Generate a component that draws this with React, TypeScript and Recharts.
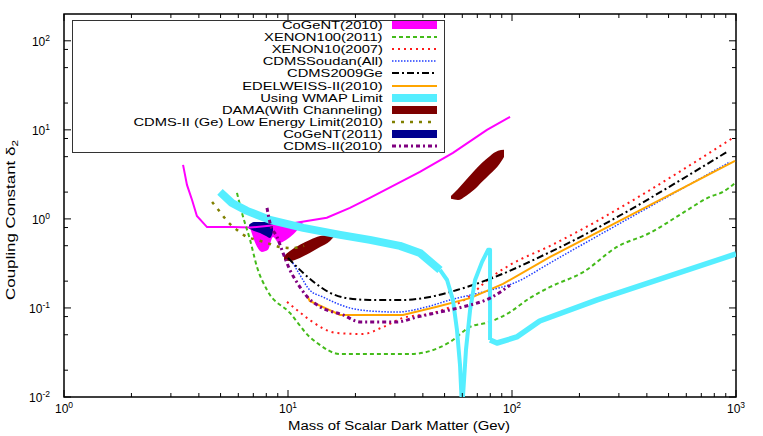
import React from 'react';
import { ComposedChart, Line, Area, XAxis, YAxis, ReferenceArea, Label } from 'recharts';

// tick values (log axes)
const xTicks = [1, 2, 3, 4, 5, 6, 7, 8, 9, 10, 20, 30, 40, 50, 60, 70, 80, 90, 100, 200, 300, 400, 500, 600, 700, 800, 900, 1000];
const yTicks = [0.01, 0.02, 0.05, 0.08, 0.1, 0.2, 0.5, 0.8, 1, 2, 5, 8, 10, 20, 50, 80, 100];

// CoGeNT(2010)
const cogent2010Line = [
  { x: 3.40, y: 4.04 }, { x: 3.54, y: 2.41 }, { x: 3.73, y: 1.63 }, { x: 3.92, y: 1.08 },
  { x: 4.35, y: 0.81 }, { x: 5.68, y: 0.81 }, { x: 6.77, y: 0.80 }, { x: 10.2, y: 0.88 },
  { x: 14.9, y: 1.03 }, { x: 18.9, y: 1.33 }, { x: 23.2, y: 1.72 }, { x: 38.8, y: 3.37 },
  { x: 54.5, y: 5.52 }, { x: 77.3, y: 10.0 }, { x: 98, y: 14.0 },
];
const cogent2010Region = [
  { x: 6.77, lo: 0.793, hi: 0.834 }, { x: 7.20, lo: 0.511, hi: 0.857 }, { x: 7.65, lo: 0.425, hi: 0.879 },
  { x: 8.14, lo: 0.449, hi: 0.879 }, { x: 8.57, lo: 0.628, hi: 0.879 }, { x: 9.12, lo: 0.537, hi: 0.879 },
  { x: 9.80, lo: 0.581, hi: 0.879 }, { x: 10.6, lo: 0.678, hi: 0.902 }, { x: 11.6, lo: 0.879, hi: 0.924 },
];

const xenon100 = [
  { x: 5.92, y: 1.96 }, { x: 6.23, y: 1.17 }, { x: 6.77, y: 0.581 }, { x: 7.27, y: 0.289 },
  { x: 8.06, y: 0.159 }, { x: 10.2, y: 0.0879 }, { x: 12.5, y: 0.0472 }, { x: 13.5, y: 0.0404 },
  { x: 17.1, y: 0.0304 }, { x: 35.1, y: 0.0304 }, { x: 52.9, y: 0.0415 }, { x: 65.0, y: 0.0612 },
  { x: 79.8, y: 0.0697 }, { x: 98, y: 0.090 }, { x: 120, y: 0.129 }, { x: 148, y: 0.172 },
  { x: 208, y: 0.253 }, { x: 294, y: 0.484 }, { x: 413, y: 0.696 }, { x: 580, y: 1.17 },
  { x: 765, y: 1.77 }, { x: 875, y: 2.01 }, { x: 990, y: 2.53 },
];

const xenon10 = [
  { x: 9.9, y: 0.117 }, { x: 11.1, y: 0.0925 }, { x: 12.5, y: 0.0733 }, { x: 16.5, y: 0.0524 },
  { x: 21.6, y: 0.051 }, { x: 26.6, y: 0.0612 }, { x: 32.6, y: 0.0772 }, { x: 44.4, y: 0.0879 },
  { x: 63.0, y: 0.129 }, { x: 79.8, y: 0.217 }, { x: 98, y: 0.304 }, { x: 148, y: 0.498 },
  { x: 970, y: 8.13 },
];

const cdmsSoudan = [
  { x: 10.5, y: 0.321 }, { x: 11.3, y: 0.235 }, { x: 12.5, y: 0.159 }, { x: 14.3, y: 0.133 },
  { x: 18.9, y: 0.1 }, { x: 23.2, y: 0.0925 }, { x: 30.7, y: 0.090 }, { x: 41.8, y: 0.103 },
  { x: 52.9, y: 0.123 }, { x: 74.3, y: 0.151 }, { x: 105, y: 0.196 }, { x: 148, y: 0.321 },
  { x: 940, y: 4.36 },
];

const cdms2009Ge = [
  { x: 10.0, y: 0.365 }, { x: 11.7, y: 0.247 }, { x: 13.2, y: 0.191 }, { x: 15.4, y: 0.148 },
  { x: 18.3, y: 0.129 }, { x: 23.2, y: 0.123 }, { x: 32.6, y: 0.123 }, { x: 43.0, y: 0.133 },
  { x: 56.8, y: 0.159 }, { x: 79.8, y: 0.212 }, { x: 148, y: 0.425 }, { x: 912, y: 5.66 },
];

const edelweiss = [
  { x: 12.2, y: 0.136 }, { x: 12.5, y: 0.120 }, { x: 17.1, y: 0.0834 }, { x: 32.6, y: 0.0834 },
  { x: 46.2, y: 0.103 }, { x: 65.0, y: 0.129 }, { x: 91.2, y: 0.186 }, { x: 148, y: 0.374 },
  { x: 990, y: 4.48 },
];

// WMAP band, split where it narrows
const wmapLeft = [
  { x: 4.97, y: 2.01 }, { x: 5.62, y: 1.51 }, { x: 6.56, y: 1.23 }, { x: 8.31, y: 0.975 },
  { x: 11.7, y: 0.793 }, { x: 17.1, y: 0.661 }, { x: 23.2, y: 0.581 }, { x: 31.6, y: 0.498 },
  { x: 38.8, y: 0.415 }, { x: 47.7, y: 0.267 },
];
const wmapDip = [
  { x: 47.7, y: 0.267 }, { x: 51.3, y: 0.206 }, { x: 54.5, y: 0.123 }, { x: 56.8, y: 0.0566 },
  { x: 58.6, y: 0.0229 }, { x: 59.5, y: 0.01 }, { x: 60.4, y: 0.01 }, { x: 62.3, y: 0.0337 },
  { x: 65.0, y: 0.095 }, { x: 68.4, y: 0.206 }, { x: 73.5, y: 0.329 }, { x: 78.2, y: 0.449 },
  { x: 79.8, y: 0.449 }, { x: 79.8, y: 0.0437 },
];
const wmapRight = [
  { x: 79.8, y: 0.0437 }, { x: 85.7, y: 0.0404 }, { x: 105, y: 0.0472 }, { x: 133, y: 0.0714 },
  { x: 240, y: 0.123 }, { x: 1000, y: 0.404 },
];

// DAMA regions
const damaLow = [
  { x: 9.60, lo: 0.346, hi: 0.384 }, { x: 10.2, lo: 0.337, hi: 0.436 }, { x: 11.3, lo: 0.365, hi: 0.511 },
  { x: 12.5, lo: 0.415, hi: 0.581 }, { x: 13.9, lo: 0.484, hi: 0.644 }, { x: 15.4, lo: 0.566, hi: 0.661 },
  { x: 16.0, lo: 0.628, hi: 0.644 },
];
const damaHigh = [
  { x: 53.4, lo: 1.68, hi: 1.81 }, { x: 57.4, lo: 1.63, hi: 2.17 }, { x: 62.3, lo: 1.81, hi: 2.74 },
  { x: 67.7, lo: 2.12, hi: 3.46 }, { x: 73.5, lo: 2.61, hi: 4.26 }, { x: 79.8, lo: 3.20, hi: 5.10 },
  { x: 86.6, lo: 3.94, hi: 5.81 }, { x: 92.1, lo: 4.97, hi: 5.96 },
];

const cdmsLowEnergy = [
  { x: 4.58, y: 1.55 }, { x: 4.97, y: 1.20 }, { x: 5.34, y: 0.951 }, { x: 5.92, y: 0.751 },
  { x: 6.56, y: 0.628 }, { x: 7.27, y: 0.581 }, { x: 8.06, y: 0.537 }, { x: 9.21, y: 0.484 },
  { x: 10.4, y: 0.471 }, { x: 11.8, y: 0.498 },
];

const cogent2011Region = [
  { x: 6.70, lo: 0.773, hi: 0.857 }, { x: 7.05, lo: 0.733, hi: 0.924 }, { x: 7.50, lo: 0.696, hi: 0.924 },
  { x: 7.97, lo: 0.644, hi: 0.924 }, { x: 8.31, lo: 0.612, hi: 0.951 }, { x: 8.57, lo: 0.714, hi: 0.879 },
];

const cdmsII2010 = [
  { x: 8.06, y: 1.33 }, { x: 8.31, y: 0.902 }, { x: 8.93, y: 0.628 }, { x: 9.50, y: 0.415 },
  { x: 10.2, y: 0.267 }, { x: 11.0, y: 0.191 }, { x: 12.2, y: 0.133 }, { x: 13.9, y: 0.103 },
  { x: 17.6, y: 0.0834 }, { x: 21.0, y: 0.0697 }, { x: 30.7, y: 0.0697 }, { x: 37.7, y: 0.0792 },
  { x: 47.7, y: 0.090 }, { x: 60.4, y: 0.103 }, { x: 79.8, y: 0.129 }, { x: 98, y: 0.180 },
];

const C = {
  cogent2010: '#ff00ff',
  xenon100: '#44bb1a',
  xenon10: '#ff1a1a',
  soudan: '#1f3dff',
  ge2009: '#000000',
  edelweiss: '#ffa500',
  wmap: '#55eeff',
  dama: '#7d0000',
  lowEnergy: '#808000',
  cogent2011: '#00008f',
  cdms2010: '#800080',
};

const legendRows = [
  { name: 'CoGeNT(2010)', color: C.cogent2010, bar: true },
  { name: 'XENON100(2011)', color: C.xenon100, width: 2, dash: '4 3' },
  { name: 'XENON10(2007)', color: C.xenon10, width: 2, dash: '2 4' },
  { name: 'CDMSSoudan(All)', color: C.soudan, width: 1.5, dash: '1.5 1.5' },
  { name: 'CDMS2009Ge', color: C.ge2009, width: 2, dash: '7 3 2 3' },
  { name: 'EDELWEISS-II(2010)', color: C.edelweiss, width: 2 },
  { name: 'Using WMAP Limit', color: C.wmap, bar: true },
  { name: 'DAMA(With Channeling)', color: C.dama, bar: true },
  { name: 'CDMS-II (Ge) Low Energy Limit(2010)', color: C.lowEnergy, width: 2.5, dash: '3 6' },
  { name: 'CoGeNT(2011)', color: C.cogent2011, bar: true },
  { name: 'CDMS-II(2010)', color: C.cdms2010, width: 3, dash: '4 3 2 3' },
];

const FONT = '"Liberation Sans", Arial, Helvetica, sans-serif';
const PLOT = { left: 64, right: 736, top: 14, bottom: 397 };

const isMajor = (v: number) => {
  const e = Math.log10(v);
  return Math.abs(e - Math.round(e)) < 1e-6;
};

const XTick = (props: any) => {
  const { x, payload } = props;
  const v = payload.value;
  const major = isMajor(v);
  const len = major ? 7 : 4;
  return (
    <g>
      <line x1={x} x2={x} y1={PLOT.bottom} y2={PLOT.bottom - len} stroke="#000" strokeWidth={1} />
      <line x1={x} x2={x} y1={PLOT.top} y2={PLOT.top + len} stroke="#000" strokeWidth={1} />
      {major && (
        <text x={x} y={PLOT.bottom + 16} textAnchor="middle" fontSize={12} fontFamily={FONT} fill="#000">
          10<tspan dy={-5} fontSize={8.5}>{Math.round(Math.log10(v))}</tspan>
        </text>
      )}
    </g>
  );
};

const YTick = (props: any) => {
  const { y, payload } = props;
  const v = payload.value;
  const major = isMajor(v);
  const len = major ? 7 : 4;
  return (
    <g>
      <line x1={PLOT.left} x2={PLOT.left + len} y1={y} y2={y} stroke="#000" strokeWidth={1} />
      <line x1={PLOT.right} x2={PLOT.right - len} y1={y} y2={y} stroke="#000" strokeWidth={1} />
      {major && (
        <text x={PLOT.left - 14} y={y + 5} textAnchor="end" fontSize={12} fontFamily={FONT} fill="#000">
          10<tspan dy={-5} fontSize={8.5}>{Math.round(Math.log10(v))}</tspan>
        </text>
      )}
    </g>
  );
};

const range = (d: any) => [d.lo, d.hi];

function LegendBox() {
  return (
    <div
      style={{
        position: 'absolute', left: 72, top: 20, width: 373, height: 133,
        border: '1.5px solid #333', background: '#fff', boxSizing: 'border-box',
        fontFamily: FONT, fontSize: 11.5, color: '#000',
      }}
    >
      <div style={{ marginTop: -2 }}>
        {legendRows.map((r) => (
          <div key={r.name} style={{ height: 12.1, display: 'flex', alignItems: 'center' }}>
            <div style={{ width: 309.5, textAlign: 'right', lineHeight: '12px' }}>
              <span style={{ display: 'inline-block', transform: 'scaleX(1.28)', transformOrigin: '100% 50%', whiteSpace: 'nowrap' }}>
                {r.name}
              </span>
            </div>
            <svg width={45} height={12} style={{ marginLeft: 9, display: 'block' }}>
              {r.bar ? (
                <rect x={0} y={2} width={45} height={8} fill={r.color} />
              ) : (
                <line x1={0} x2={45} y1={6} y2={6} stroke={r.color} strokeWidth={r.width} strokeDasharray={r.dash} />
              )}
            </svg>
          </div>
        ))}
      </div>
    </div>
  );
}

export default function App() {
  const lineProps = { dataKey: 'y', dot: false, isAnimationActive: false, activeDot: false } as const;
  return (
    <div style={{ position: 'absolute', left: 0, top: 0, width: 763, height: 436, background: '#fff' }}>
      <ComposedChart width={763} height={436} margin={{ top: 14, right: 27, bottom: 9, left: 10 }}>
        <XAxis
          type="number"
          dataKey="x"
          scale="log"
          domain={[1, 1000]}
          allowDataOverflow
          ticks={xTicks}
          interval={0}
          tick={XTick}
          tickLine={false}
          axisLine={false}
          tickSize={0}
          tickMargin={0}
          height={30}
        >
          <Label
            content={() => (
              <text x={399} y={430} textAnchor="middle" fontSize={12.5} fontFamily={FONT} textLength={222} lengthAdjust="spacingAndGlyphs">
                Mass of Scalar Dark Matter (Gev)
              </text>
            )}
          />
        </XAxis>
        <YAxis
          type="number"
          scale="log"
          domain={[0.01, 200]}
          allowDataOverflow
          ticks={yTicks}
          interval={0}
          tick={YTick}
          tickLine={false}
          axisLine={false}
          tickSize={0}
          tickMargin={0}
          width={54}
        >
          <Label
            content={() => (
              <text transform="translate(14.5,220) rotate(-90)" textAnchor="middle" fontSize={13} fontFamily={FONT} textLength={160} lengthAdjust="spacingAndGlyphs">
                Coupling Constant δ<tspan dy={3} fontSize={9}>2</tspan>
              </text>
            )}
          />
        </YAxis>

        <Area data={cogent2010Region} dataKey={range} type="monotone" stroke="none" fill={C.cogent2010} fillOpacity={1} isAnimationActive={false} activeDot={false} />
        <Line {...lineProps} data={cogent2010Line} type="linear" stroke={C.cogent2010} strokeWidth={2} />
        <Line {...lineProps} data={xenon100} type="monotone" stroke={C.xenon100} strokeWidth={2} strokeDasharray="4 3" />
        <Line {...lineProps} data={xenon10} type="monotone" stroke={C.xenon10} strokeWidth={2} strokeDasharray="2 4" />
        <Line {...lineProps} data={cdmsSoudan} type="monotone" stroke={C.soudan} strokeWidth={1.5} strokeDasharray="1.5 1.5" />
        <Line {...lineProps} data={cdms2009Ge} type="monotone" stroke={C.ge2009} strokeWidth={2} strokeDasharray="7 3 2 3" />
        <Line {...lineProps} data={edelweiss} type="linear" stroke={C.edelweiss} strokeWidth={2} />
        <Line {...lineProps} data={wmapLeft} type="linear" stroke={C.wmap} strokeWidth={8} strokeLinejoin="round" />
        <Line {...lineProps} data={wmapDip} type="linear" stroke={C.wmap} strokeWidth={4} strokeLinejoin="round" />
        <Line {...lineProps} data={wmapRight} type="linear" stroke={C.wmap} strokeWidth={5.5} strokeLinejoin="round" />
        <Area data={damaLow} dataKey={range} type="monotone" stroke="none" fill={C.dama} fillOpacity={1} isAnimationActive={false} activeDot={false} />
        <Area data={damaHigh} dataKey={range} type="monotone" stroke="none" fill={C.dama} fillOpacity={1} isAnimationActive={false} activeDot={false} />
        <Line {...lineProps} data={cdmsLowEnergy} type="monotone" stroke={C.lowEnergy} strokeWidth={2.5} strokeDasharray="3 6" />
        <Area data={cogent2011Region} dataKey={range} type="monotone" stroke="none" fill={C.cogent2011} fillOpacity={1} isAnimationActive={false} activeDot={false} />
        <Line {...lineProps} data={cdmsII2010} type="monotone" stroke={C.cdms2010} strokeWidth={3} strokeDasharray="4 3 2 3" />

        <ReferenceArea x1={1} x2={1000} y1={0.01} y2={200} fill="none" fillOpacity={0} stroke="#000" strokeWidth={1.5} />
      </ComposedChart>
      <LegendBox />
    </div>
  );
}
